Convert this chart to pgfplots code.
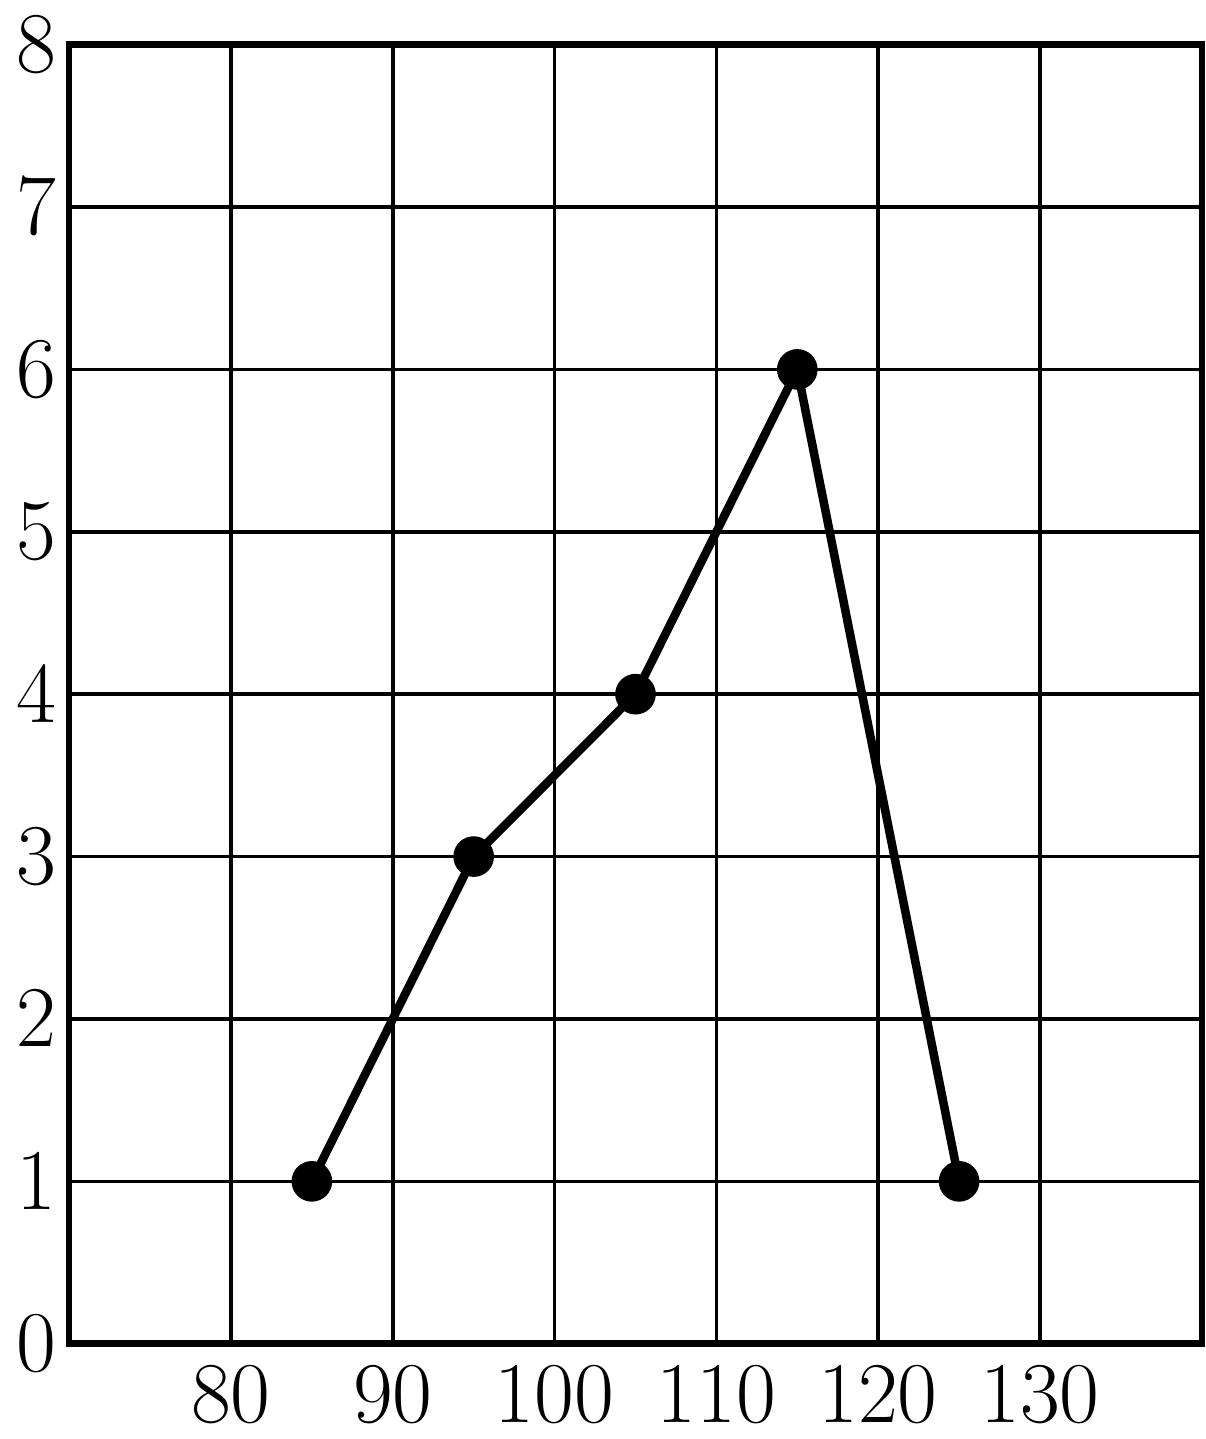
\documentclass[border=0pt]{standalone}
\usepackage{pgfplots}
\pgfplotsset{compat=1.18}
\begin{document}
\begin{tikzpicture}
\begin{axis}[
  scale only axis,
  width=226pt, height=259.2pt,
  xmin=70, xmax=140, ymin=0, ymax=8,
  xtick={80,90,...,130},
  ytick={0,1,...,8},
  grid=major,
  grid style={black, line width=0.7pt},
  axis line style={line width=1.3pt},
  major tick length=0pt,
  tick label style={font=\fontsize{18}{21}\selectfont},
  xticklabel style={yshift=-1pt},
  yticklabel style={xshift=1pt},
]
\addplot[black, line width=1.7pt, mark=*, mark size=3.2pt] coordinates {
 (85,1) (95,3) (105,4) (115,6) (125,1)};
\end{axis}
\end{tikzpicture}
\end{document}
